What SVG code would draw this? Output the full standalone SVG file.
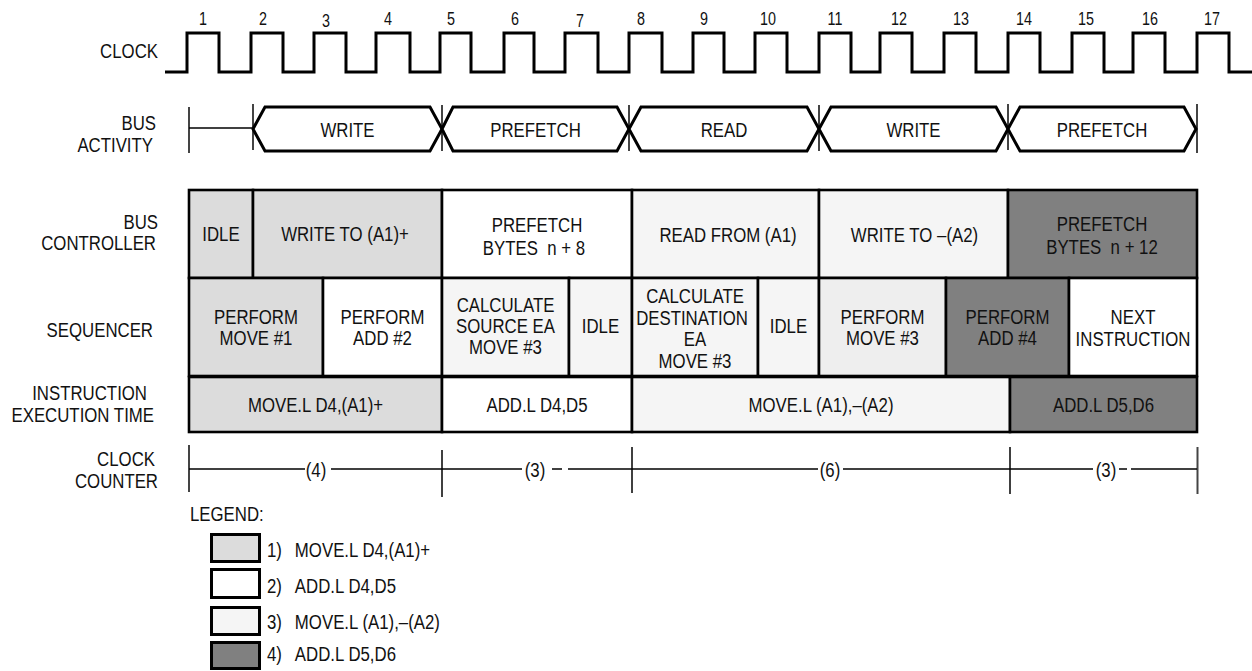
<svg xmlns="http://www.w3.org/2000/svg" width="1252" height="671" viewBox="0 0 1252 671">
<style>
.t{font-family:"Liberation Sans",Arial,sans-serif;font-size:20.5px;fill:#111}
.m{text-anchor:middle}
.e{text-anchor:end}
.n{font-size:17.5px}
.cell{stroke:#000;stroke-width:2.6}
.c1{fill:#dcdcdc}.c2{fill:#ffffff}.c3{fill:#f5f5f5}.c3b{fill:#eeeeee}.c4{fill:#808080}
.hex{fill:#fff;stroke:#000;stroke-width:3;stroke-linejoin:miter}
.bar{stroke:#444;stroke-width:2}
.ln{stroke:#000;stroke-width:1.5}
</style>
<rect width="1252" height="671" fill="#fff"/>

<g id="labels">
<text class="t e" transform="translate(158,58) scale(.82,1)">CLOCK</text>
<text class="t e" transform="translate(156,130) scale(.82,1)">BUS</text>
<text class="t e" transform="translate(153,151.5) scale(.82,1)">ACTIVITY</text>
<text class="t e" transform="translate(158,229) scale(.82,1)">BUS</text>
<text class="t e" transform="translate(156,250) scale(.82,1)">CONTROLLER</text>
<text class="t e" transform="translate(153,336.5) scale(.82,1)">SEQUENCER</text>
<text class="t e" transform="translate(147,400) scale(.82,1)">INSTRUCTION</text>
<text class="t e" transform="translate(154,421.5) scale(.82,1)">EXECUTION TIME</text>
<text class="t e" transform="translate(155,466) scale(.82,1)">CLOCK</text>
<text class="t e" transform="translate(158,488) scale(.82,1)">COUNTER</text>
</g>

<g id="clock">
<path d="M165,72 H187 V33 H219 V72 H251 V33 H283 V72 H314 V33 H346 V72 H376 V33 H410 V72 H440 V33 H471 V72 H504 V33 H534 V72 H565 V33 H598 V72 H629 V33 H662 V72 H693 V33 H724 V72 H755 V33 H787 V72 H819 V33 H851 V72 H880 V33 H912 V72 H944 V33 H976 V72 H1008 V33 H1040 V72 H1072 V33 H1104 V72 H1133 V33 H1165 V72 H1197 V33 H1229 V72 H1252" fill="none" stroke="#000" stroke-width="3"/>
<g class="t n m">
<text transform="translate(203,25) scale(.82,1)">1</text>
<text transform="translate(263,25) scale(.82,1)">2</text>
<text transform="translate(326,26.5) scale(.82,1)">3</text>
<text transform="translate(388,25) scale(.82,1)">4</text>
<text transform="translate(451,25) scale(.82,1)">5</text>
<text transform="translate(515,25) scale(.82,1)">6</text>
<text transform="translate(580,26.5) scale(.82,1)">7</text>
<text transform="translate(641,25) scale(.82,1)">8</text>
<text transform="translate(704,25) scale(.82,1)">9</text>
<text transform="translate(768,25) scale(.82,1)">10</text>
<text transform="translate(835,25) scale(.82,1)">11</text>
<text transform="translate(899,25) scale(.82,1)">12</text>
<text transform="translate(961,25) scale(.82,1)">13</text>
<text transform="translate(1024,25) scale(.82,1)">14</text>
<text transform="translate(1086,25) scale(.82,1)">15</text>
<text transform="translate(1150,25) scale(.82,1)">16</text>
<text transform="translate(1212,25) scale(.82,1)">17</text>
</g>
</g>

<g id="connectors">
<line class="bar" x1="189" y1="107" x2="189" y2="153"/>
<line class="ln" x1="189" y1="128" x2="253" y2="128"/>
<line class="bar" x1="253" y1="104" x2="253" y2="150"/>
<line class="bar" x1="442" y1="105" x2="442" y2="151"/>
<line class="bar" x1="629" y1="105" x2="629" y2="151"/>
<line class="bar" x1="819" y1="105" x2="819" y2="151"/>
<line class="bar" x1="1008" y1="104" x2="1008" y2="150"/>
<line class="bar" x1="1197" y1="104" x2="1197" y2="153"/>
<line class="bar" x1="189" y1="445" x2="189" y2="492" stroke-width="2.5"/>
<line class="ln" x1="442" y1="450" x2="442" y2="497"/>
<line class="ln" x1="632" y1="447" x2="632" y2="493"/>
<line class="ln" x1="1010" y1="447" x2="1010" y2="494"/>
<line class="bar" x1="1197.5" y1="447" x2="1197.5" y2="494" stroke-width="2.5"/>
<line class="ln" x1="189" y1="469" x2="305" y2="469"/>
<line class="ln" x1="331" y1="469" x2="442" y2="469"/>
<line class="ln" x1="442" y1="469" x2="522" y2="469"/>
<line class="ln" x1="552" y1="469" x2="562" y2="469"/>
<line class="ln" x1="568" y1="469" x2="632" y2="469"/>
<line class="ln" x1="632" y1="469" x2="818" y2="469"/>
<line class="ln" x1="843" y1="469" x2="1010" y2="469"/>
<line class="ln" x1="1010" y1="469" x2="1093" y2="469"/>
<line class="ln" x1="1119" y1="469" x2="1127" y2="469"/>
<line class="ln" x1="1131" y1="469" x2="1197" y2="469"/>
</g>

<g id="bus-activity">
<g id="ba-write1"><path class="hex" d="M253,129 L265,107 H430 L442,129 L430,151 H265 Z"/><text class="t m" transform="translate(347.5,137) scale(.82,1)">WRITE</text></g>
<g id="ba-prefetch1"><path class="hex" d="M442,129 L453,107 H617 L629,129 L617,151 H453 Z"/><text class="t m" transform="translate(535.5,137) scale(.82,1)">PREFETCH</text></g>
<g id="ba-read"><path class="hex" d="M629,129 L641,107 H807 L819,129 L807,151 H641 Z"/><text class="t m" transform="translate(724,137) scale(.82,1)">READ</text></g>
<g id="ba-write2"><path class="hex" d="M819,129 L831,107 H996 L1008,129 L996,151 H831 Z"/><text class="t m" transform="translate(913.5,137) scale(.82,1)">WRITE</text></g>
<g id="ba-prefetch2"><path class="hex" d="M1008,129 L1020,107 H1184 L1196,129 L1184,151 H1020 Z"/><text class="t m" transform="translate(1102,137) scale(.82,1)">PREFETCH</text></g>
</g>

<g id="bus-controller">
<g id="bc-idle"><rect class="cell c1" x="189" y="190" width="64" height="88"/><text class="t m" transform="translate(221,241) scale(.82,1)">IDLE</text></g>
<g id="bc-write1"><rect class="cell c1" x="253" y="190" width="189" height="88"/><text class="t m" transform="translate(345,241) scale(.82,1)">WRITE TO (A1)+</text></g>
<g id="bc-prefetch1"><rect class="cell c2" x="442" y="190" width="190" height="88"/><text class="t m" transform="translate(537,231.5) scale(.82,1)">PREFETCH</text><text class="t m" transform="translate(534,255) scale(.82,1)" xml:space="preserve">BYTES  n + 8</text></g>
<g id="bc-read"><rect class="cell c3" x="632" y="190" width="187" height="88"/><text class="t m" transform="translate(728,241.5) scale(.82,1)">READ FROM (A1)</text></g>
<g id="bc-write2"><rect class="cell c3" x="819" y="190" width="189" height="88"/><text class="t m" transform="translate(914.5,241.5) scale(.82,1)">WRITE TO –(A2)</text></g>
<g id="bc-prefetch2"><rect class="cell c4" x="1008" y="190" width="189" height="88"/><text class="t m" transform="translate(1102,231) scale(.82,1)">PREFETCH</text><text class="t m" transform="translate(1102,253.5) scale(.82,1)" xml:space="preserve">BYTES  n + 12</text></g>
</g>

<g id="sequencer">
<g id="sq-move1"><rect class="cell c1" x="189" y="278" width="134" height="98"/><text class="t m" transform="translate(256,323.5) scale(.82,1)">PERFORM</text><text class="t m" transform="translate(256,345) scale(.82,1)">MOVE #1</text></g>
<g id="sq-add2"><rect class="cell c2" x="323" y="278" width="119" height="98"/><text class="t m" transform="translate(382.5,323.5) scale(.82,1)">PERFORM</text><text class="t m" transform="translate(382.5,345) scale(.82,1)">ADD #2</text></g>
<g id="sq-calc-src"><rect class="cell c3" x="442" y="278" width="127" height="98"/><text class="t m" transform="translate(505.5,312) scale(.82,1)">CALCULATE</text><text class="t m" transform="translate(505.5,333) scale(.82,1)">SOURCE EA</text><text class="t m" transform="translate(505.5,354) scale(.82,1)">MOVE #3</text></g>
<g id="sq-idle1"><rect class="cell c3" x="569" y="278" width="63" height="98"/><text class="t m" transform="translate(600.5,333) scale(.82,1)">IDLE</text></g>
<g id="sq-calc-dst"><rect class="cell c3" x="632" y="278" width="126" height="98"/><text class="t m" transform="translate(695,303) scale(.82,1)">CALCULATE</text><text class="t m" transform="translate(692,324.5) scale(.82,1)">DESTINATION</text><text class="t m" transform="translate(695,346) scale(.82,1)">EA</text><text class="t m" transform="translate(695,367.5) scale(.82,1)">MOVE #3</text></g>
<g id="sq-idle2"><rect class="cell c3" x="758" y="278" width="61" height="98"/><text class="t m" transform="translate(788.5,333) scale(.82,1)">IDLE</text></g>
<g id="sq-move3"><rect class="cell c3b" x="819" y="278" width="127" height="98"/><text class="t m" transform="translate(882.5,323.5) scale(.82,1)">PERFORM</text><text class="t m" transform="translate(882.5,345) scale(.82,1)">MOVE #3</text></g>
<g id="sq-add4"><rect class="cell c4" x="946" y="278" width="123" height="98"/><text class="t m" transform="translate(1007.5,323.5) scale(.82,1)">PERFORM</text><text class="t m" transform="translate(1007.5,345) scale(.82,1)">ADD #4</text></g>
<g id="sq-next"><rect class="cell c2" x="1069" y="278" width="128" height="98"/><text class="t m" transform="translate(1133,323.5) scale(.82,1)">NEXT</text><text class="t m" transform="translate(1133,346) scale(.82,1)">INSTRUCTION</text></g>
</g>

<g id="execution-time">
<g id="ex-move1"><rect class="cell c1" x="189" y="377" width="253" height="55"/><text class="t m" transform="translate(315.5,411.5) scale(.82,1)">MOVE.L D4,(A1)+</text></g>
<g id="ex-add2"><rect class="cell c2" x="442" y="377" width="190" height="55"/><text class="t m" transform="translate(537,411.5) scale(.82,1)">ADD.L D4,D5</text></g>
<g id="ex-move3"><rect class="cell c3" x="632" y="377" width="378" height="55"/><text class="t m" transform="translate(821,411.5) scale(.82,1)">MOVE.L (A1),–(A2)</text></g>
<g id="ex-add4"><rect class="cell c4" x="1010" y="377" width="187" height="55"/><text class="t m" transform="translate(1103.5,411.5) scale(.82,1)">ADD.L D5,D6</text></g>
</g>

<g id="clock-counter">
<text class="t m" transform="translate(316,476.5) scale(.82,1)">(4)</text>
<text class="t m" transform="translate(535,476.5) scale(.82,1)">(3)</text>
<text class="t m" transform="translate(830,476.5) scale(.82,1)">(6)</text>
<text class="t m" transform="translate(1106,476.5) scale(.82,1)">(3)</text>
</g>

<g id="legend">
<text class="t" transform="translate(190,521) scale(.82,1)">LEGEND:</text>
<g id="lg-1"><rect class="c1" x="211.5" y="534.5" width="48" height="27" stroke="#000" stroke-width="3"/><text class="t" transform="translate(267,556.5) scale(.82,1)"><tspan x="0">1)</tspan><tspan x="34">MOVE.L D4,(A1)+</tspan></text></g>
<g id="lg-2"><rect class="c2" x="211.5" y="569.5" width="48" height="28" stroke="#000" stroke-width="3"/><text class="t" transform="translate(267,592.5) scale(.82,1)"><tspan x="0">2)</tspan><tspan x="34">ADD.L D4,D5</tspan></text></g>
<g id="lg-3"><rect class="c3" x="211.5" y="607.5" width="48" height="27" stroke="#000" stroke-width="3"/><text class="t" transform="translate(267,629) scale(.82,1)"><tspan x="0">3)</tspan><tspan x="34">MOVE.L (A1),–(A2)</tspan></text></g>
<g id="lg-4"><rect class="c4" x="211.5" y="642.5" width="48" height="26" stroke="#000" stroke-width="3"/><text class="t" transform="translate(267,660.5) scale(.82,1)"><tspan x="0">4)</tspan><tspan x="34">ADD.L D5,D6</tspan></text></g>
</g>
</svg>
